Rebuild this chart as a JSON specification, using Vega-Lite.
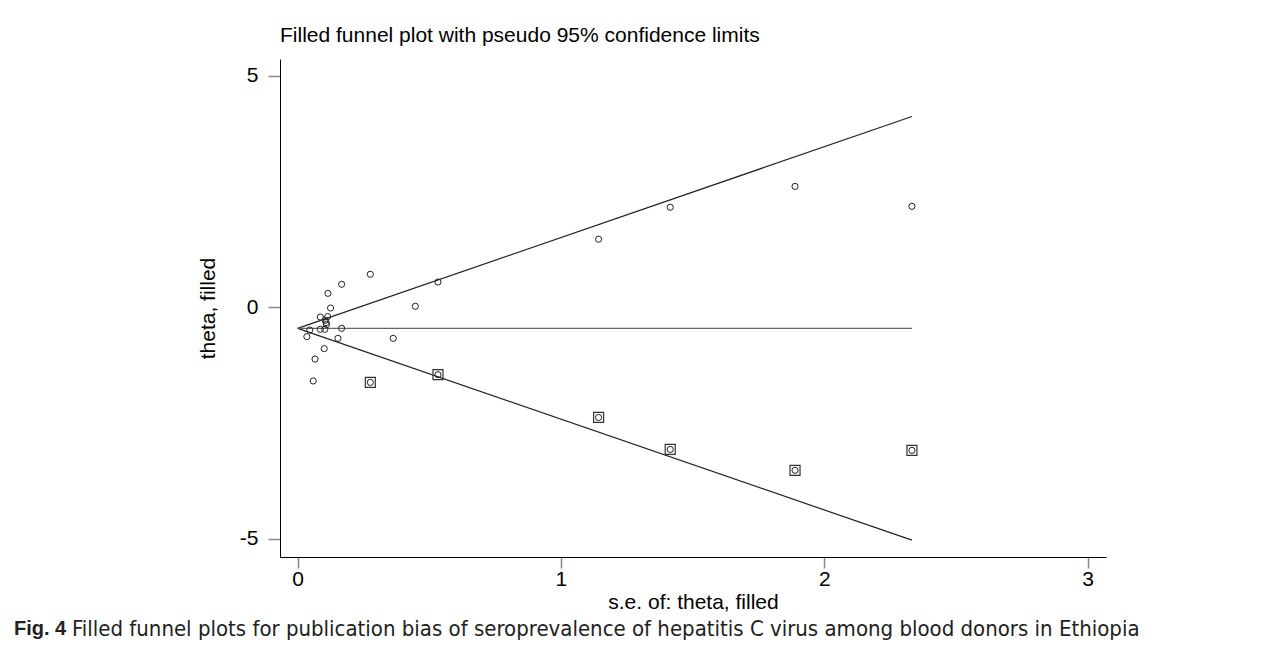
{
  "$schema": "https://vega.github.io/schema/vega-lite/v6.json",
  "background": "white",
  "padding": {"left": 14, "top": 25, "right": 10, "bottom": 10},
  "datasets": {
    "points": [
      {"se": 0.276, "theta": 0.713, "type": "observed"},
      {"se": 0.167, "theta": 0.497, "type": "observed"},
      {"se": 0.115, "theta": 0.302, "type": "observed"},
      {"se": 0.533, "theta": 0.546, "type": "observed"},
      {"se": 0.125, "theta": -0.015, "type": "observed"},
      {"se": 0.447, "theta": 0.022, "type": "observed"},
      {"se": 0.086, "theta": -0.21, "type": "observed"},
      {"se": 0.114, "theta": -0.2, "type": "observed"},
      {"se": 0.105, "theta": -0.28, "type": "observed"},
      {"se": 0.108, "theta": -0.33, "type": "observed"},
      {"se": 0.11, "theta": -0.37, "type": "observed"},
      {"se": 0.046, "theta": -0.49, "type": "observed"},
      {"se": 0.086, "theta": -0.475, "type": "observed"},
      {"se": 0.103, "theta": -0.475, "type": "observed"},
      {"se": 0.167, "theta": -0.454, "type": "observed"},
      {"se": 0.035, "theta": -0.633, "type": "observed"},
      {"se": 0.153, "theta": -0.67, "type": "observed"},
      {"se": 0.363, "theta": -0.67, "type": "observed"},
      {"se": 0.101, "theta": -0.892, "type": "observed"},
      {"se": 0.066, "theta": -1.117, "type": "observed"},
      {"se": 0.059, "theta": -1.59, "type": "observed"},
      {"se": 1.143, "theta": 1.47, "type": "observed"},
      {"se": 1.415, "theta": 2.16, "type": "observed"},
      {"se": 1.889, "theta": 2.61, "type": "observed"},
      {"se": 2.333, "theta": 2.18, "type": "observed"},
      {"se": 0.276, "theta": -1.621, "type": "filled"},
      {"se": 0.533, "theta": -1.454, "type": "filled"},
      {"se": 1.143, "theta": -2.378, "type": "filled"},
      {"se": 1.415, "theta": -3.068, "type": "filled"},
      {"se": 1.889, "theta": -3.518, "type": "filled"},
      {"se": 2.333, "theta": -3.088, "type": "filled"}
    ],
    "lines": [
      {"se": 0, "theta": -0.454, "line": "upper"},
      {"se": 2.333, "theta": 4.119, "line": "upper"},
      {"se": 0, "theta": -0.454, "line": "lower"},
      {"se": 2.333, "theta": -5.027, "line": "lower"},
      {"se": 0, "theta": -0.454, "line": "center"},
      {"se": 2.333, "theta": -0.454, "line": "center"}
    ]
  },
  "title": {
    "text": "Fig. 4",
    "orient": "bottom",
    "anchor": "start",
    "frame": "group",
    "font": "Liberation Sans",
    "fontSize": 20,
    "fontWeight": "bold",
    "color": "#222",
    "dx": -266,
    "dy": -21,
    "offset": 0
  },
  "vconcat": [
    {
      "title": {
        "text": "Filled funnel plots for publication bias of seroprevalence of hepatitis C virus among blood donors in Ethiopia",
        "orient": "bottom",
        "anchor": "start",
        "frame": "group",
        "font": "DejaVu Sans Condensed, Liberation Sans",
        "fontSize": 22,
        "fontWeight": "normal",
        "color": "#222",
        "dx": -208,
        "offset": 7
      },
      "vconcat": [
        {
          "width": 826,
          "height": 498,
          "title": {
            "text": "Filled funnel plot with pseudo 95% confidence limits",
            "anchor": "start",
            "frame": "group",
            "font": "Liberation Sans",
            "fontSize": 21,
            "fontWeight": "normal",
            "color": "#000",
            "offset": 13
          },
          "layer": [
            {
              "data": {"name": "lines"},
              "mark": {"type": "line", "strokeWidth": 1.2},
              "encoding": {
                "x": {
                  "field": "se",
                  "type": "quantitative",
                  "scale": {"domain": [-0.067, 3.07], "nice": false, "zero": false},
                  "axis": {
                    "values": [0, 1, 2, 3],
                    "title": "s.e. of: theta, filled",
                    "labelExpr": "'' + datum.value",
                    "labelPadding": 0,
                    "titlePadding": 2,
                    "tickSize": 11
                  }
                },
                "y": {
                  "field": "theta",
                  "type": "quantitative",
                  "scale": {"domain": [-5.39, 5.36], "nice": false, "zero": false},
                  "axis": {
                    "values": [-5, 0, 5],
                    "title": "theta, filled",
                    "labelExpr": "'' + datum.value",
                    "labelPadding": 10,
                    "titlePadding": 21,
                    "tickSize": 12
                  }
                },
                "detail": {"field": "line", "type": "nominal"},
                "color": {
                  "field": "line",
                  "type": "nominal",
                  "scale": {"domain": ["lower", "center", "upper"], "range": ["#222222", "#666666", "#222222"]},
                  "legend": null
                }
              }
            },
            {
              "data": {"name": "points"},
              "transform": [{"filter": "datum.type === 'filled'"}],
              "mark": {"type": "point", "shape": "square", "filled": false, "size": 100, "stroke": "#333333", "strokeWidth": 1.2, "opacity": 1},
              "encoding": {
                "x": {"field": "se", "type": "quantitative"},
                "y": {"field": "theta", "type": "quantitative"}
              }
            },
            {
              "data": {"name": "points"},
              "mark": {"type": "point", "shape": "circle", "filled": false, "size": 38, "stroke": "#222222", "strokeWidth": 1, "opacity": 1},
              "encoding": {
                "x": {"field": "se", "type": "quantitative"},
                "y": {"field": "theta", "type": "quantitative"}
              }
            }
          ]
        }
      ]
    }
  ],
  "config": {
    "view": {"stroke": null},
    "axis": {
      "grid": false,
      "labelFont": "Liberation Sans",
      "labelFontSize": 21,
      "labelColor": "#000",
      "titleFont": "Liberation Sans",
      "titleFontSize": 21,
      "titleFontWeight": "normal",
      "titleColor": "#000",
      "tickColor": "#888888",
      "tickWidth": 1.5,
      "domainColor": "#000",
      "domainWidth": 1,
      "labelFlush": false
    }
  }
}
